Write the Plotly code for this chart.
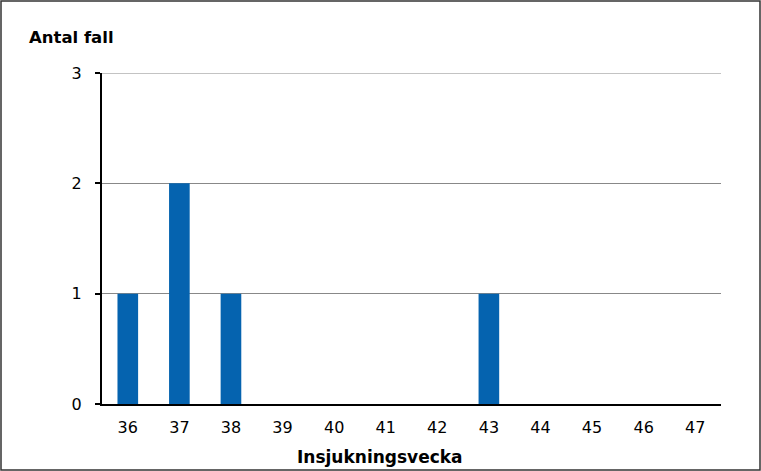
import plotly.graph_objects as go

weeks = ["36", "37", "38", "39", "40", "41", "42", "43", "44", "45", "46", "47"]
cases = [1, 2, 1, 0, 0, 0, 0, 1, 0, 0, 0, 0]
y_ticks = [0, 1, 2, 3]

W, H = 761, 471
L, R, T, B = 102, 40, 73, 67
pw, ph = W - L - R, H - T - B

fig = go.Figure(go.Bar(x=weeks, y=cases, marker=dict(color="#0563AF", line=dict(width=0)), width=0.4))

font = "DejaVu Sans, Verdana, sans-serif"
fig.update_layout(
    width=W, height=H,
    margin=dict(l=L, r=R, t=T, b=B, pad=0),
    plot_bgcolor="white", paper_bgcolor="white",
    showlegend=False,
    font=dict(family=font, size=16, color="black"),
    xaxis=dict(type="category", showline=True, linecolor="black", linewidth=2,
               ticks="", tickfont=dict(size=16), showgrid=False, ticklabelstandoff=8),
    yaxis=dict(range=[0, 3], tickvals=y_ticks, showline=True, linecolor="black", linewidth=2,
               ticks="outside", ticklen=5, tickwidth=2, tickcolor="black",
               gridcolor="#888888", gridwidth=1, zeroline=False, tickfont=dict(size=16),
               ticklabelstandoff=10),
    annotations=[
        dict(text="<b>Antal fall</b>", xref="paper", yref="paper", x=(27 - L) / pw, y=1 + (T - 37) / ph,
             xanchor="left", yanchor="middle", showarrow=False, font=dict(size=16.5)),
        dict(text="<b>Insjukningsvecka</b>", xref="paper", yref="paper", x=(380 - L) / pw, y=-(457 - T - ph) / ph,
             xanchor="center", yanchor="middle", showarrow=False, font=dict(size=17)),
    ],
    shapes=[
        dict(type="rect", xref="paper", yref="paper",
             x0=(1 - L) / pw, x1=(W - 1 - L) / pw, y0=-(B - 1) / ph, y1=1 + (T - 1) / ph,
             line=dict(color="#333333", width=1.5), fillcolor="rgba(0,0,0,0)", layer="below"),
        dict(type="line", xref="paper", yref="y", x0=0, x1=1, y0=y_ticks[-1], y1=y_ticks[-1],
             line=dict(color="#888888", width=1), layer="below"),
    ],
)
fig.write_html("out.html", config={"displayModeBar": False},
               post_script="document.body.style.margin='0';document.body.style.overflow='hidden';")
